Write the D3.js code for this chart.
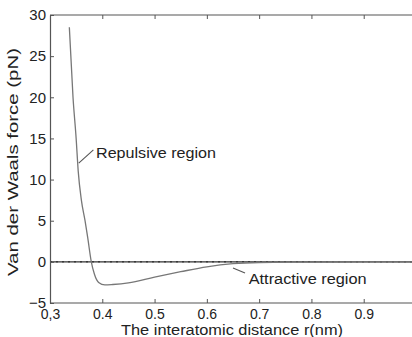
<!DOCTYPE html>
<html><head><meta charset="utf-8">
<script src="https://cdn.jsdelivr.net/npm/d3@7"></script>
<style>body{margin:0;background:#fff}svg{display:block;font-family:"Liberation Sans",Arial,sans-serif}</style>
</head><body>
<svg id="c" width="412" height="337"></svg>
<script>
const distance = [0.337,0.344,0.350,0.354,0.360,0.367,0.372,0.379,0.385,0.393,0.405,0.420,0.450,0.500,0.550,0.600,0.650,0.700,0.800,0.900,1.000];
const force    = [28.5,20,15,11,7.5,5,3,0,-1.5,-2.5,-2.8,-2.75,-2.55,-1.85,-1.2,-0.6,-0.22,-0.08,-0.03,-0.01,0];
const xTicks = [0.3,0.4,0.5,0.6,0.7,0.8,0.9];
const xTickLabels = ["0,3","0.4","0.5","0.6","0.7","0.8","0.9"];
const yTicks = [-5,0,5,10,15,20,25,30];
const annotations = [
  {text:"Repulsive region", r:0.355, v:12, lr:0.383, lv:13.6, tr:0.388, tv:13.2, w:120},
  {text:"Attractive region", r:0.650, v:-0.75, lr:0.673, lv:-1.35, tr:0.680, tv:-2.1, w:118}
];

const svg = d3.select("#c");
const x = d3.scaleLinear().domain([0.3,1.0]).range([50,416]);
const y = d3.scaleLinear().domain([-5,30]).range([303,15]);
const ax = "#555";

// box
svg.append("line").attr("x1",50).attr("x2",412).attr("y1",y(30)).attr("y2",y(30)).attr("stroke",ax).attr("stroke-width",1.2);
svg.append("line").attr("x1",50).attr("x2",412).attr("y1",y(-5)).attr("y2",y(-5)).attr("stroke",ax).attr("stroke-width",1.2);

// zero line
svg.append("line").attr("x1",50).attr("x2",412).attr("y1",y(0)).attr("y2",y(0)).attr("stroke","#333").attr("stroke-width",1.2);
svg.append("line").attr("x1",50).attr("x2",412).attr("y1",y(0)).attr("y2",y(0)).attr("stroke","#222").attr("stroke-width",1).attr("stroke-dasharray","2,4");

// axes
const xAxis = d3.axisBottom(x).tickValues(xTicks).tickFormat((d,i)=>xTickLabels[i]).tickSizeInner(-4).tickSizeOuter(0).tickPadding(6);
const gx = svg.append("g").attr("transform",`translate(0,${y(-5)})`).call(xAxis);
gx.select(".domain").remove();
gx.selectAll("line").attr("stroke",ax);
gx.selectAll("text").attr("font-size",14).attr("fill","#222").attr("font-family","'Liberation Sans',Arial,sans-serif");

const xTop = d3.axisTop(x).tickValues(xTicks).tickFormat("").tickSizeInner(-4).tickSizeOuter(0);
const gt = svg.append("g").attr("transform",`translate(0,${y(30)})`).call(xTop);
gt.select(".domain").remove();
gt.selectAll("line").attr("stroke",ax);

const yAxis = d3.axisLeft(y).tickValues(yTicks).tickFormat(d3.format("d")).tickSizeInner(-4).tickSizeOuter(0).tickPadding(4);
const gy = svg.append("g").attr("transform","translate(50,0)").call(yAxis);
gy.select(".domain").attr("stroke",ax).attr("stroke-width",1.2);
gy.selectAll("line").attr("stroke",ax);
gy.selectAll("text").attr("font-size",15).attr("fill","#222").attr("font-family","'Liberation Sans',Arial,sans-serif");

// curve
const line = d3.line().x((d,i)=>x(distance[i])).y((d,i)=>y(force[i])).curve(d3.curveMonotoneX);
svg.append("path").datum(force).attr("d",line).attr("fill","none").attr("stroke","#777").attr("stroke-width",1.3);

// annotations
annotations.forEach(a=>{
  svg.append("line").attr("x1",x(a.r)).attr("y1",y(a.v)).attr("x2",x(a.lr)).attr("y2",y(a.lv))
    .attr("stroke","#555").attr("stroke-width",1.1);
  svg.append("text").attr("x",x(a.tr)).attr("y",y(a.tv)).attr("dy","0.35em").attr("font-size",14).attr("fill","#222")
    .attr("textLength",a.w).attr("lengthAdjust","spacingAndGlyphs").text(a.text);
});

// titles
svg.append("text").attr("x",232).attr("y",335).attr("text-anchor","middle").attr("font-size",14).attr("fill","#222")
  .attr("textLength",222).attr("lengthAdjust","spacingAndGlyphs").text("The interatomic distance r(nm)");
svg.append("text").attr("transform","translate(18,162) rotate(-90)").attr("text-anchor","middle").attr("font-size",15).attr("fill","#222")
  .attr("textLength",228).attr("lengthAdjust","spacingAndGlyphs").text("Van der Waals force (pN)");
</script>
</body></html>
